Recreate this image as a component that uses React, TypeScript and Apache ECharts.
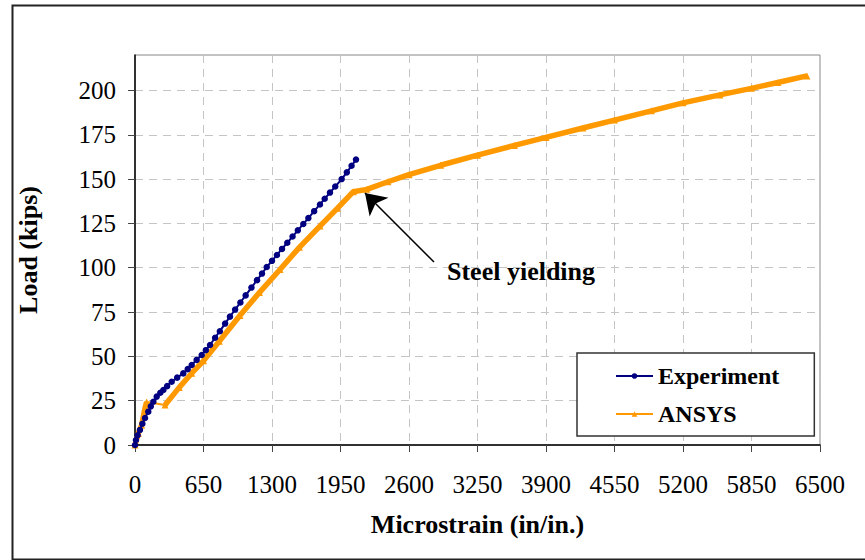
import React, { useEffect, useRef } from "react";
import * as echarts from "echarts";

// Experiment: microstrain vs load (kips)
const expStrain = [
  0, 9, 25, 47, 70, 95, 126, 150, 174, 206, 240, 269, 305, 348, 400, 458, 500, 538, 585, 633, 672, 712,
  760, 805, 855, 901, 950, 1000, 1050, 1105, 1158, 1205, 1250, 1300, 1347, 1395, 1445, 1495, 1545, 1597,
  1645, 1700, 1755, 1800, 1850, 1900, 1961, 2010, 2055, 2097,
];
const expLoad = [
  0, 2.8, 5.5, 8.5, 12, 15.2, 18.8, 21.8, 24.4, 27.3, 29.5, 31, 33.2, 35.7, 38, 40.4, 42.8, 45.1, 48, 50.8,
  53.5, 56.4, 60.5, 64.2, 68.5, 72.4, 76.4, 80.4, 84.4, 88.8, 93, 96.7, 100.4, 103.9, 107.2, 110.6, 114.1,
  117.6, 121.1, 124.7, 128, 131.9, 135.7, 138.9, 142.4, 145.8, 150, 153.8, 157.5, 161,
];

// ANSYS: microstrain vs load (kips); the step between index 5 and 6 is the thin jump
const ansysStrain = [
  0, 32, 63, 79, 95, 111, 285, 420, 538, 650, 800, 996, 1180, 1376, 1560, 1755, 1920, 2072, 2200, 2400,
  2600, 2900, 3250, 3600, 3900, 4250, 4550, 4900, 5200, 5550, 5850, 6100, 6376,
];
const ansysLoad = [
  0, 6.6, 11.3, 16, 20.7, 24.3, 22.6, 32.5, 40.5, 47.5, 58.5, 73, 86, 99, 111.5, 123.5, 133.5, 142.9,
  144.2, 148.5, 152.5, 157.8, 163.5, 169, 173.5, 178.8, 183.3, 188.5, 193, 197.5, 201.2, 204.5, 208.2,
];
const ansysGapAfter = 5;

const xMin = 0;
const xMax = 6500;
const xInterval = 650;
const yTicks = [0, 25, 50, 75, 100, 125, 150, 175, 200];
const yMax = 220;

const seriesNames = ["Experiment", "ANSYS"];
const xTitle = "Microstrain (in/in.)";
const yTitle = "Load (kips)";
const annotationText = "Steel yielding";
const arrowFrom = [2837, 103.2];
const arrowTo = [2182, 142.2];

const FONT = '"Liberation Serif", "Times New Roman", serif';

export default function App() {
  const ref = useRef<HTMLDivElement>(null);

  useEffect(() => {
    if (!ref.current) return;
    const chart = echarts.init(ref.current, null, { renderer: "svg" });

    const expData = expStrain.map((x, i) => [x, expLoad[i]]);
    const ansysData: any[] = [];
    ansysStrain.forEach((x, i) => {
      ansysData.push([x, ansysLoad[i]]);
      if (i === ansysGapAfter) ansysData.push(["-", "-"]);
    });
    const linkData = [
      [ansysStrain[ansysGapAfter], ansysLoad[ansysGapAfter]],
      [ansysStrain[ansysGapAfter + 1], ansysLoad[ansysGapAfter + 1]],
    ];

    const option: any = {
      animation: false,
      backgroundColor: "#fff",
      grid: {
        left: 135,
        right: 45,
        top: 55,
        bottom: 115,
        show: true,
        borderColor: "#888",
        borderWidth: 1,
        backgroundColor: "#fff",
      },
      xAxis: {
        type: "value",
        min: xMin,
        max: xMax,
        interval: xInterval,
        name: xTitle,
        nameLocation: "middle",
        nameGap: 66,
        nameTextStyle: { fontFamily: FONT, fontSize: 26, fontWeight: "bold", color: "#000" },
        axisLine: { show: true, onZero: false, lineStyle: { color: "#000", width: 1.5 } },
        axisTick: { show: true, length: 7, lineStyle: { color: "#444", width: 1 } },
        axisLabel: {
          fontFamily: FONT,
          fontSize: 25,
          color: "#000",
          margin: 27,
          formatter: (v: number) => String(v),
        },
        splitLine: { show: true, lineStyle: { color: "#c4c4c4", width: 1, type: [8, 6] } },
      },
      yAxis: {
        type: "value",
        min: 0,
        max: yMax,
        interval: 25,
        name: yTitle,
        nameLocation: "middle",
        nameGap: 94,
        nameTextStyle: { fontFamily: FONT, fontSize: 26, fontWeight: "bold", color: "#000" },
        axisLine: { show: true, onZero: false, lineStyle: { color: "#000", width: 1.5 } },
        axisTick: { show: true, length: 7, lineStyle: { color: "#444", width: 1 }, customValues: yTicks },
        axisLabel: {
          fontFamily: FONT,
          fontSize: 25,
          color: "#000",
          margin: 19,
          customValues: yTicks,
          formatter: (v: number) => String(v),
        },
        splitLine: { show: true, lineStyle: { color: "#c4c4c4", width: 1, type: [8, 6] } },
      },
      legend: {
        data: seriesNames,
        orient: "vertical",
        left: 577,
        top: 353,
        padding: [10, 35, 9, 38],
        itemGap: 12,
        itemWidth: 37,
        itemHeight: 7,
        borderColor: "#333",
        borderWidth: 1.5,
        backgroundColor: "#fff",
        lineStyle: { width: 2 },
        textStyle: { fontFamily: FONT, fontSize: 24, fontWeight: "bold", color: "#000", lineHeight: 26 },
      },
      series: [
        {
          name: "ANSYS link",
          type: "line",
          data: linkData,
          symbol: "none",
          lineStyle: { color: "#FF9900", width: 2 },
          silent: true,
          z: 2,
        },
        {
          name: seriesNames[1],
          type: "line",
          data: ansysData,
          connectNulls: false,
          symbol: "triangle",
          symbolSize: 7,
          showSymbol: true,
          color: "#FF9900",
          itemStyle: { color: "#FF9900" },
          lineStyle: { color: "#FF9900", width: 5.5 },
          z: 3,
          markLine: {
            silent: true,
            animation: false,
            symbol: ["none", "arrow"],
            symbolSize: 20,
            lineStyle: { color: "#000", width: 1.5, type: "solid" },
            label: { show: false },
            emphasis: { disabled: true },
            data: [[{ coord: arrowFrom }, { coord: arrowTo }]],
          },
        },
        {
          name: seriesNames[0],
          type: "line",
          data: expData,
          symbol: "circle",
          symbolSize: 6.5,
          showSymbol: true,
          color: "#000080",
          itemStyle: { color: "#000080" },
          lineStyle: { color: "#000080", width: 2 },
          z: 4,
        },
      ],
      graphic: [
        {
          type: "rect",
          left: 10,
          top: 3,
          shape: { x: 0, y: 0, width: 870, height: 554 },
          style: { fill: "none", stroke: "#222", lineWidth: 2 },
          silent: true,
          z: 100,
        },
        {
          type: "text",
          left: 447,
          top: 258,
          style: {
            text: annotationText,
            fontFamily: FONT,
            fontSize: 26,
            fontWeight: "bold",
            fill: "#000",
          },
          z: 100,
        },
      ],
    };

    chart.setOption(option);
    return () => chart.dispose();
  }, []);

  return (
    <div
      ref={ref}
      style={{ position: "fixed", left: 0, top: 0, width: 865, height: 560, background: "#fff" }}
    />
  );
}
